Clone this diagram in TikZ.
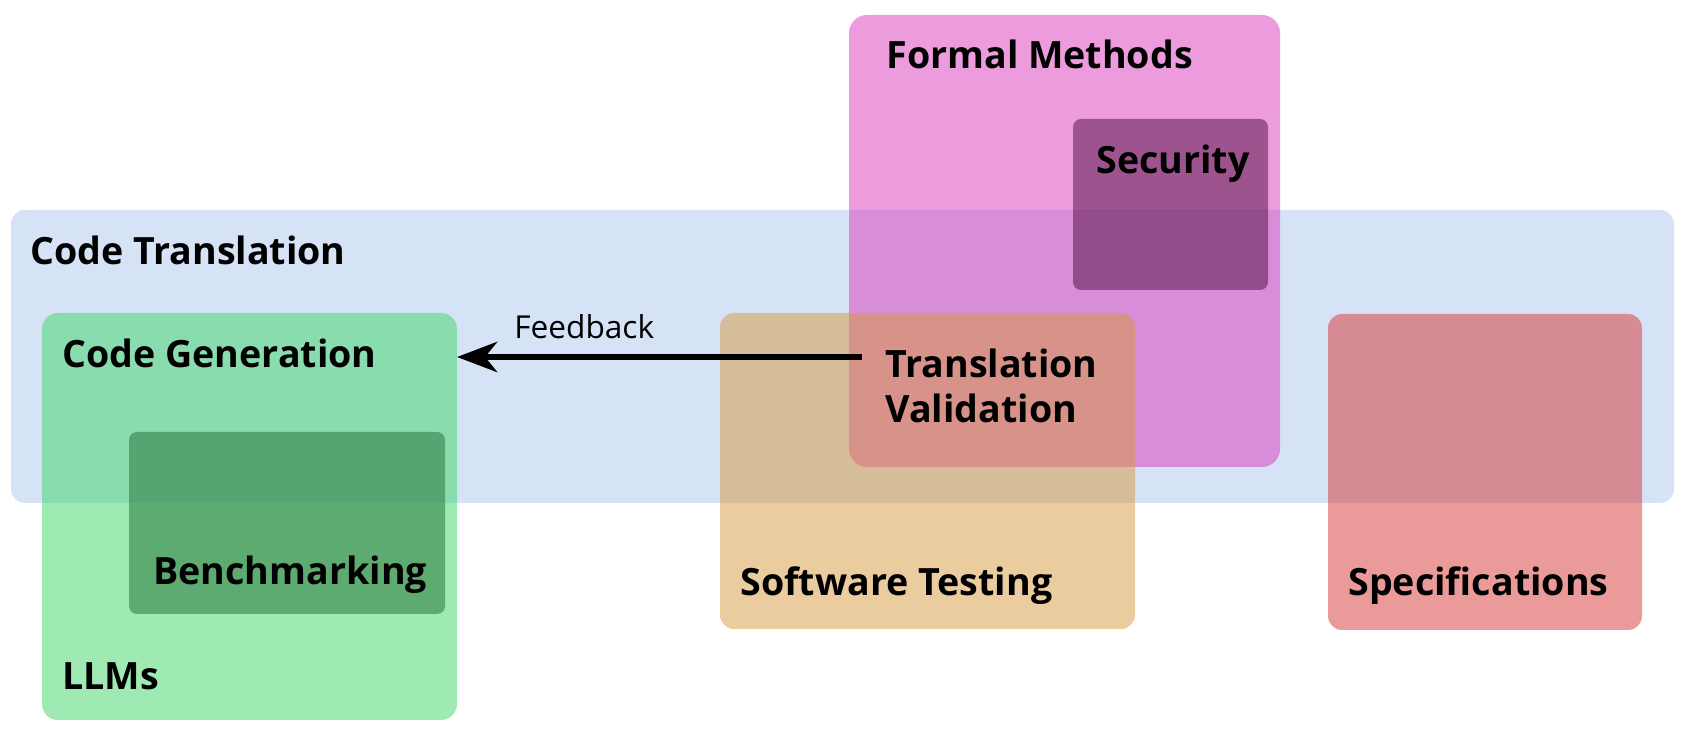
\documentclass[tikz,border=0pt]{standalone}
\usepackage{fontspec}
\setmainfont{Open Sans}
\usetikzlibrary{positioning,arrows.meta}
\definecolor{transblue}{RGB}{173,199,237}
\definecolor{llmgreen}{RGB}{61,213,101}
\definecolor{benchgreen}{RGB}{32,110,52}
\definecolor{formalpink}{RGB}{217,57,185}
\definecolor{securepurple}{RGB}{80,12,64}
\definecolor{testorange}{RGB}{215,153,61}
\definecolor{specred}{RGB}{215,53,53}
\tikzset{
  area/.style={rectangle,draw=none,fill opacity=0.5,inner sep=0pt,outer sep=0pt,rounded corners=7pt},
  subarea/.style={area,rounded corners=4pt},
  areatitle/.style={anchor=base west,inner sep=0pt,font=\fontsize{18.8}{22}\selectfont\bfseries},
  fbarrow/.style={line width=3.3pt,-{Stealth[length=20pt,width=15pt,inset=6pt]}}
}
\begin{document}
\begin{tikzpicture}[x=0.5pt,y=-0.5pt]
\useasboundingbox (0,0) rectangle (1683,731);
% areas
\node[area,fill=transblue,minimum width=831.5pt,minimum height=146.5pt] (trans) at (842.5,356.5) {};
\node[area,fill=llmgreen,minimum width=207.5pt,minimum height=203.5pt,rounded corners=8pt] (llms) at (249.5,516.5) {};
\node[subarea,fill=benchgreen,minimum width=158pt,minimum height=91pt] (bench) at (287,523) {};
\node[area,fill=formalpink,minimum width=215.5pt,minimum height=226pt,rounded corners=9pt] (formal) at (1064.5,241) {};
\node[subarea,fill=securepurple,minimum width=97.5pt,minimum height=85.5pt] (secure) at (1170.5,204.5) {};
\node[area,fill=testorange,minimum width=207.5pt,minimum height=158pt] (testing) at (927.5,471) {};
\node[area,fill=specred,minimum width=157pt,minimum height=158pt] (spec) at (1485,472) {};
% titles
\node[areatitle] (transtitle) at (30,265) {Code Translation};
\node[areatitle] (gentitle) at (62,368) {Code Generation};
\node[areatitle] (benchtitle) at (153,585) {Benchmarking};
\node[areatitle] (llmtitle) at (62,690) {LLMs};
\node[areatitle] (formaltitle) at (886,69) {Formal Methods};
\node[areatitle] (securetitle) at (1096,174) {Security};
\node[areatitle] (tvtitle) at (885,378) {Translation};
\node[areatitle] (tvtitle2) at (885,423) {Validation};
\node[areatitle] (testtitle) at (740,596) {Software Testing};
\node[areatitle] (spectitle) at (1348,596) {Specifications};
% feedback
\coordinate (fbstart) at (862,357);
\draw[fbarrow] (fbstart) -- (fbstart -| llms.east);
\node[anchor=base west,inner sep=0pt,font=\fontsize{15.8}{18}\selectfont] (fblabel) at (514,339) {Feedback};
\end{tikzpicture}
\end{document}
